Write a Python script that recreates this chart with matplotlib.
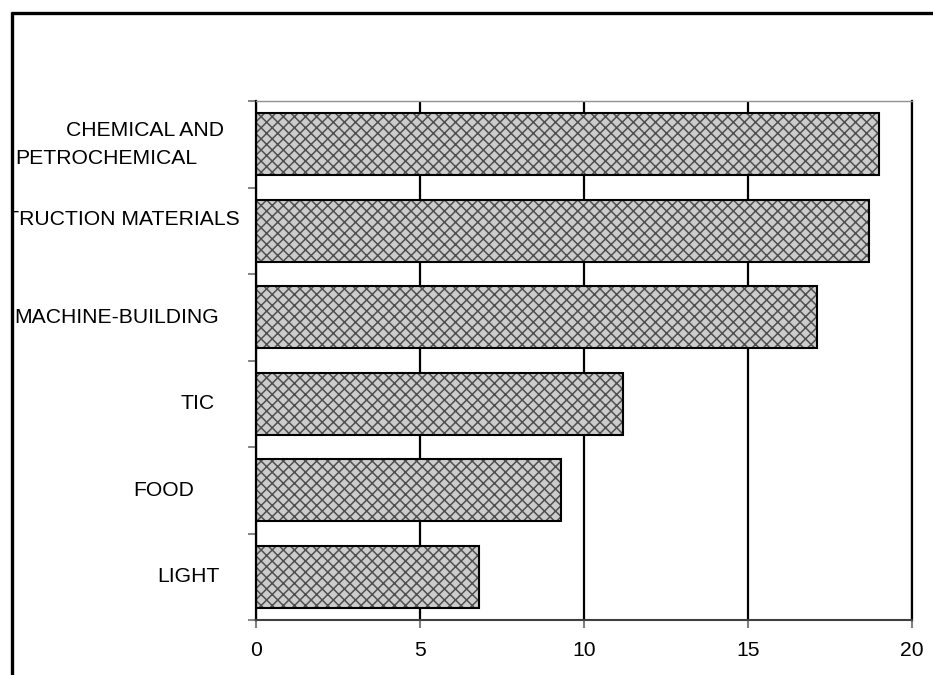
import matplotlib
matplotlib.use("Agg")
import matplotlib.pyplot as plt
from matplotlib import transforms
from matplotlib.lines import Line2D

# Industry shares
categories = ["CHEMICAL AND PETROCHEMICAL", "CONSTRUCTION MATERIALS",
              "MACHINE-BUILDING", "TIC", "FOOD", "LIGHT"]
values = [19.0, 18.7, 17.1, 11.2, 9.3, 6.8]
x_ticks = [0, 5, 10, 15, 20]

plt.rcParams["font.family"] = ["Liberation Sans", "DejaVu Sans"]
plt.rcParams["hatch.linewidth"] = 1.1

W, H = 933, 675
FS = 15.2
fig = plt.figure(figsize=(W / 100, H / 100), dpi=100)
fig.patch.set_facecolor("white")

left, right, top, bottom = 256, 912, 101, 620
ax = fig.add_axes([left / W, (H - bottom) / H, (right - left) / W, (bottom - top) / H])

y = list(range(len(categories)))
# hatched fill, then a separate black outline
ax.barh(y, values, height=0.72, color="#cccccc", edgecolor="#505050",
        hatch="xxx", linewidth=0, zorder=2)
ax.barh(y, values, height=0.72, fill=False, edgecolor="black",
        linewidth=1.5, zorder=3)

ax.set_xlim(0, 20)
ax.set_ylim(len(categories) - 0.5, -0.5)
ax.set_xticks(x_ticks)
ax.set_xticklabels([str(t) for t in x_ticks], fontsize=FS)
ax.tick_params(axis="x", direction="out", length=6, width=1.5,
               color="#808080", pad=9)

# tick marks between categories, labels drawn separately
ax.set_yticks([])
ax.set_yticks([i - 0.5 for i in range(len(categories) + 1)], minor=True)
ax.tick_params(axis="y", which="minor", direction="out", length=6,
               width=1.2, color="#707070")

ax.xaxis.grid(True, color="black", linewidth=1.6)
ax.set_axisbelow(True)

ax.spines["left"].set_color("black")
ax.spines["left"].set_linewidth(1.6)
ax.spines["bottom"].set_color("#404040")
ax.spines["bottom"].set_linewidth(1.5)
ax.spines["top"].set_color("#909090")
ax.spines["top"].set_linewidth(1.0)
ax.spines["right"].set_color("black")
ax.spines["right"].set_linewidth(1.6)

# category labels: x in pixels, y tied to the category rows
px = transforms.IdentityTransform()
trans = transforms.blended_transform_factory(px, ax.transData)
clip = transforms.Bbox.from_extents(13, 0, W, H)
label_specs = [
    ("CHEMICAL AND", 224, 0, -0.16),
    ("PETROCHEMICAL", 197, 0, 0.16),
    ("CONSTRUCTION MATERIALS", 240, 1, -0.13),
    ("MACHINE-BUILDING", 219, 2, 0.0),
    ("TIC", 215, 3, 0.0),
    ("FOOD", 194, 4, 0.0),
    ("LIGHT", 220, 5, 0.0),
]
for text, xr, row, dy in label_specs:
    t = ax.text(xr, row + dy, text, transform=trans, ha="right", va="center",
                fontsize=FS, color="black", clip_on=True)
    t.set_clip_box(clip)

# outer frame (top and left edges)
fig.add_artist(Line2D([11, W], [H - 13, H - 13], transform=px,
                      color="black", linewidth=2.4, solid_capstyle="butt"))
fig.add_artist(Line2D([12, 12], [0, H - 12], transform=px,
                      color="black", linewidth=2.4, solid_capstyle="butt"))

fig.savefig("out.png", dpi=100, facecolor="white")
